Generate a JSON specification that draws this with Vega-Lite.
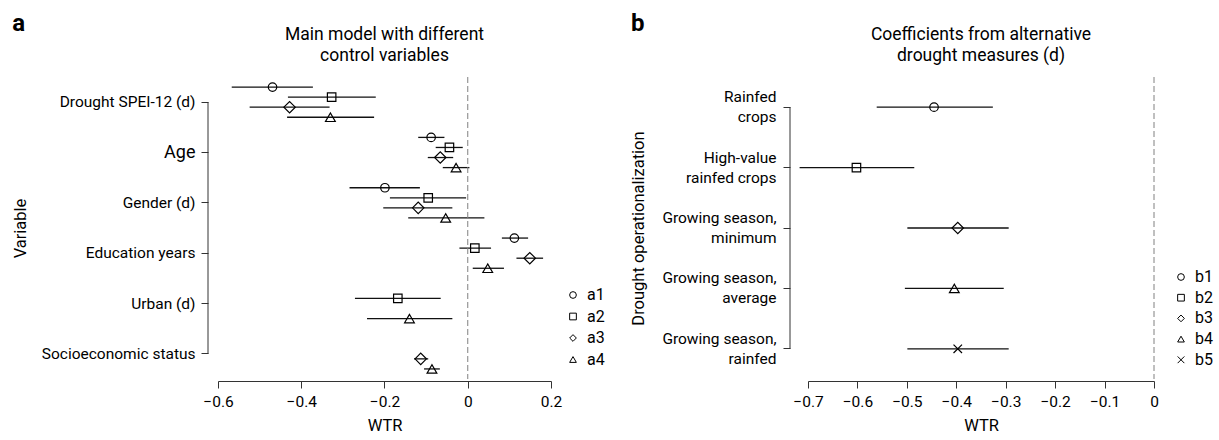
{
  "$schema": "https://vega.github.io/schema/vega-lite/v6.json",
  "padding": {"left": 12, "top": 12, "right": 5, "bottom": 0},
  "datasets": {
    "a": [
      {"variable": "Drought SPEI-12 (d)", "model": "a1", "est": -0.469, "lo": -0.567, "hi": -0.372},
      {"variable": "Drought SPEI-12 (d)", "model": "a2", "est": -0.327, "lo": -0.432, "hi": -0.221},
      {"variable": "Drought SPEI-12 (d)", "model": "a3", "est": -0.428, "lo": -0.524, "hi": -0.332},
      {"variable": "Drought SPEI-12 (d)", "model": "a4", "est": -0.330, "lo": -0.434, "hi": -0.225},
      {"variable": "Age", "model": "a1", "est": -0.088, "lo": -0.119, "hi": -0.056},
      {"variable": "Age", "model": "a2", "est": -0.044, "lo": -0.077, "hi": -0.012},
      {"variable": "Age", "model": "a3", "est": -0.066, "lo": -0.096, "hi": -0.035},
      {"variable": "Age", "model": "a4", "est": -0.028, "lo": -0.060, "hi": 0.004},
      {"variable": "Gender (d)", "model": "a1", "est": -0.199, "lo": -0.284, "hi": -0.115},
      {"variable": "Gender (d)", "model": "a2", "est": -0.095, "lo": -0.187, "hi": -0.004},
      {"variable": "Gender (d)", "model": "a3", "est": -0.119, "lo": -0.203, "hi": -0.037},
      {"variable": "Gender (d)", "model": "a4", "est": -0.053, "lo": -0.143, "hi": 0.040},
      {"variable": "Education years", "model": "a1", "est": 0.112, "lo": 0.082, "hi": 0.145},
      {"variable": "Education years", "model": "a2", "est": 0.017, "lo": -0.020, "hi": 0.056},
      {"variable": "Education years", "model": "a3", "est": 0.149, "lo": 0.117, "hi": 0.181},
      {"variable": "Education years", "model": "a4", "est": 0.048, "lo": 0.012, "hi": 0.087},
      {"variable": "Urban (d)", "model": "a2", "est": -0.168, "lo": -0.271, "hi": -0.065},
      {"variable": "Urban (d)", "model": "a4", "est": -0.140, "lo": -0.242, "hi": -0.037},
      {"variable": "Socioeconomic status", "model": "a3", "est": -0.113, "lo": -0.129, "hi": -0.095},
      {"variable": "Socioeconomic status", "model": "a4", "est": -0.086, "lo": -0.105, "hi": -0.067}
    ],
    "b": [
      {"measure": "Rainfed|crops", "model": "b1", "est": -0.445, "lo": -0.561, "hi": -0.326},
      {"measure": "High-value|rainfed crops", "model": "b2", "est": -0.602, "lo": -0.717, "hi": -0.485},
      {"measure": "Growing season,|minimum", "model": "b3", "est": -0.397, "lo": -0.499, "hi": -0.294},
      {"measure": "Growing season,|average", "model": "b4", "est": -0.404, "lo": -0.504, "hi": -0.304},
      {"measure": "Growing season,|rainfed", "model": "b5", "est": -0.397, "lo": -0.499, "hi": -0.294}
    ]
  },
  "config": {
    "view": {"stroke": null},
    "font": "Roboto",
    "axis": {
      "labelFont": "Roboto", "titleFont": "Roboto", "labelColor": "#000", "titleColor": "#000",
      "labelFontSize": 15.5, "titleFontSize": 16.5, "titleFontWeight": "normal", "grid": false,
      "tickColor": "#333", "domainColor": "#333", "tickSize": 7, "labelFlush": false, "labelOverlap": false
    },
    "title": {"font": "Roboto", "color": "#000"},
    "legend": {
      "labelFont": "Roboto", "labelFontSize": 16, "labelColor": "#000", "symbolSize": 45,
      "symbolStrokeColor": "#000", "symbolStrokeWidth": 1, "padding": 0, "labelOffset": 6
    }
  },
  "resolve": {
    "scale": {"shape": "independent", "x": "independent", "y": "independent"},
    "legend": {"shape": "independent"}
  },
  "spacing": 25,
  "hconcat": [
    {
      "title": {"text": "a", "anchor": "start", "frame": "bounds", "fontSize": 24, "fontWeight": "bold", "offset": -10},
      "vconcat": [
        {
          "width": 333,
          "height": 302,
          "title": {"text": ["Main model with different", "control variables"], "fontSize": 17.5, "fontWeight": "normal", "lineHeight": 21, "offset": 12, "anchor": "middle"},
          "layer": [
            {
              "data": {"name": "a"},
              "mark": {"type": "rule", "color": "#111", "strokeWidth": 1.3},
              "encoding": {
                "y": {
                  "field": "variable", "type": "nominal",
                  "scale": {"type": "band", "paddingInner": 0, "paddingOuter": 0,
                    "domain": ["Drought SPEI-12 (d)", "Age", "Gender (d)", "Education years", "Urban (d)", "Socioeconomic status"]},
                  "axis": {
                    "title": "Variable", "titlePadding": 13, "domain": false, "tickSize": 7, "labelPadding": 6, "offset": 10,
                    "labelLimit": 300,
                    "labelFontSize": {"condition": {"test": "datum.value === 'Age'", "value": 18}, "value": 15.5}
                  }
                },
                "yOffset": {"field": "model", "type": "nominal",
                  "scale": {"type": "band", "domain": ["a1", "a2", "a3", "a4"], "paddingInner": 0, "paddingOuter": 0.5}},
                "x": {"field": "lo", "type": "quantitative",
                  "scale": {"domain": [-0.6, 0.2], "nice": false, "zero": false},
                  "axis": {"title": "WTR", "values": [-0.6, -0.4, -0.2, 0, 0.2], "format": "~g", "offset": 2, "labelPadding": 6, "titlePadding": 8}},
                "x2": {"field": "hi"}
              }
            },
            {
              "data": {"name": "a"},
              "mark": {"type": "point", "filled": false, "stroke": "#000", "strokeWidth": 1.2, "opacity": 1},
              "encoding": {
                "y": {"field": "variable", "type": "nominal"},
                "yOffset": {"field": "model", "type": "nominal"},
                "x": {"field": "est", "type": "quantitative"},
                "shape": {"field": "model", "type": "nominal",
                  "scale": {"domain": ["a1", "a2", "a3", "a4"], "range": ["circle", "square", "diamond", "triangle-up"]},
                  "legend": {"orient": "none", "legendX": 347, "legendY": 210, "title": null, "rowPadding": 5.5}},
                "size": {"condition": [{"test": "datum.model === 'a3'", "value": 130}, {"test": "datum.model === 'a4'", "value": 95}], "value": 72}
              }
            },
            {
              "data": {"values": [{}]},
              "mark": {"type": "rule", "color": "#808080", "strokeDash": [6, 3], "strokeWidth": 1},
              "encoding": {"x": {"datum": 0}}
            },
            {
              "data": {"values": [{}]},
              "mark": {"type": "rule", "color": "#333", "strokeWidth": 1},
              "encoding": {
                "x": {"datum": -0.624},
                "y": {"datum": "Drought SPEI-12 (d)", "type": "nominal", "bandPosition": 0.5},
                "y2": {"datum": "Socioeconomic status", "bandPosition": 0.5}
              }
            }
          ]
        }
      ]
    },
    {
      "title": {"text": "b", "anchor": "start", "frame": "bounds", "fontSize": 24, "fontWeight": "bold", "offset": -10},
      "vconcat": [
        {
          "width": 346,
          "height": 302,
          "title": {"text": ["Coefficients from alternative", "drought measures (d)"], "fontSize": 17.5, "fontWeight": "normal", "lineHeight": 21, "offset": 12, "anchor": "middle"},
          "layer": [
            {
              "data": {"name": "b"},
              "mark": {"type": "rule", "color": "#111", "strokeWidth": 1.3},
              "encoding": {
                "y": {
                  "field": "measure", "type": "nominal",
                  "scale": {"type": "band", "paddingInner": 0, "paddingOuter": 0,
                    "domain": ["Rainfed|crops", "High-value|rainfed crops", "Growing season,|minimum", "Growing season,|average", "Growing season,|rainfed"]},
                  "axis": {
                    "title": "Drought operationalization", "titlePadding": 15, "domain": false, "tickSize": 7, "labelPadding": 7, "offset": 18,
                    "labelLimit": 300, "labelLineHeight": 20, "labelOffset": -10, "labelExpr": "split(datum.label, '|')"
                  }
                },
                "x": {"field": "lo", "type": "quantitative",
                  "scale": {"domain": [-0.7, 0], "nice": false, "zero": false},
                  "axis": {"title": "WTR", "values": [-0.7, -0.6, -0.5, -0.4, -0.3, -0.2, -0.1, 0], "format": "~g", "offset": 2, "labelPadding": 6, "titlePadding": 8}},
                "x2": {"field": "hi"}
              }
            },
            {
              "data": {"name": "b"},
              "mark": {"type": "point", "filled": false, "stroke": "#000", "strokeWidth": 1.2, "opacity": 1},
              "encoding": {
                "y": {"field": "measure", "type": "nominal"},
                "x": {"field": "est", "type": "quantitative"},
                "shape": {"field": "model", "type": "nominal",
                  "scale": {"domain": ["b1", "b2", "b3", "b4", "b5"], "range": ["circle", "square", "diamond", "triangle-up", "M-1,-1L1,1M-1,1L1,-1"]},
                  "legend": {"orient": "none", "legendX": 365, "legendY": 192, "title": null, "rowPadding": 4.7}},
                "size": {"condition": [{"test": "datum.model === 'b3'", "value": 130}, {"test": "datum.model === 'b4'", "value": 95}], "value": 72}
              }
            },
            {
              "data": {"values": [{}]},
              "mark": {"type": "rule", "color": "#808080", "strokeDash": [6, 3], "strokeWidth": 1},
              "encoding": {"x": {"datum": 0}}
            },
            {
              "data": {"values": [{}]},
              "mark": {"type": "rule", "color": "#333", "strokeWidth": 1},
              "encoding": {
                "x": {"datum": -0.7364},
                "y": {"datum": "Rainfed|crops", "type": "nominal", "bandPosition": 0.5},
                "y2": {"datum": "Growing season,|rainfed", "bandPosition": 0.5}
              }
            }
          ]
        }
      ]
    }
  ]
}
